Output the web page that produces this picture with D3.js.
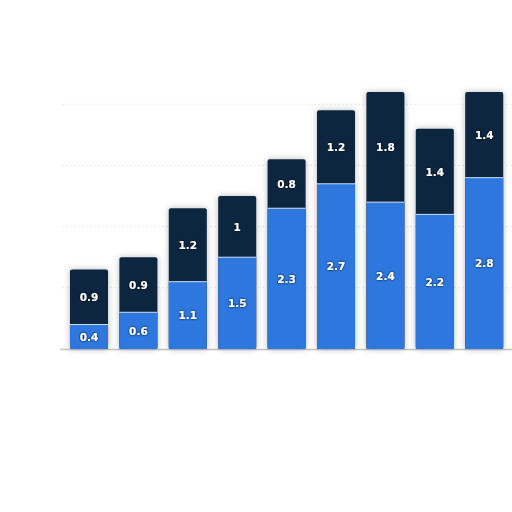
<!DOCTYPE html>
<html>
<head>
<meta charset="utf-8">
<script src="https://cdn.jsdelivr.net/npm/d3@7"></script>
<style>
body { margin: 0; background: #fff; }
svg { display: block; }
.lbl { font-family: "DejaVu Sans", sans-serif; font-weight: bold; font-size: 10.5px; fill: #fff; }
</style>
</head>
<body>
<svg id="chart"></svg>
<script>
// values
var categories = ["1", "2", "3", "4", "5", "6", "7", "8", "9"];
var lower = [0.4, 0.6, 1.1, 1.5, 2.3, 2.7, 2.4, 2.2, 2.8];
var upper = [0.9, 0.9, 1.2, 1, 0.8, 1.2, 1.8, 1.4, 1.4];
var gridTicks = [1, 2, 3, 4];

var screen = {width: 512, height: 512};
var base = 349;

var svg = d3.select("#chart")
    .attr("width", screen.width)
    .attr("height", screen.height);

var defs = svg.append("defs");
var f = defs.append("filter").attr("id", "shadow")
    .attr("x", "-30%").attr("y", "-10%").attr("width", "160%").attr("height", "120%");
f.append("feDropShadow").attr("dx", 0).attr("dy", 0)
    .attr("stdDeviation", 3).attr("flood-color", "#000").attr("flood-opacity", 0.28);
var tf = defs.append("filter").attr("id", "txt");
tf.append("feDropShadow").attr("dx", 0).attr("dy", 0)
    .attr("stdDeviation", 0.9).attr("flood-color", "#000").attr("flood-opacity", 1);

var xScale = d3.scaleBand()
    .domain(categories)
    .range([64.3, 508.9])
    .paddingInner(0.23)
    .paddingOuter(0.115);

var yScale = d3.scaleLinear()
    .domain([0, 4.2])
    .range([base, 92]);

// faint dotted grid
svg.selectAll(".grid")
    .data(gridTicks)
    .enter()
    .append("line")
    .attr("x1", 62).attr("x2", 512)
    .attr("y1", function(d) { return yScale(d); })
    .attr("y2", function(d) { return yScale(d); })
    .attr("stroke", "#e9e9e9")
    .attr("stroke-width", 1)
    .attr("stroke-dasharray", "2,2");

// baseline
svg.append("line")
    .attr("x1", 60).attr("x2", 512)
    .attr("y1", base + 0.5).attr("y2", base + 0.5)
    .attr("stroke", "#c4c4c4")
    .attr("stroke-width", 1.5);

var bars = svg.selectAll(".bar")
    .data(categories)
    .enter()
    .append("g")
    .attr("class", "bar");

bars.append("rect")
    .attr("filter", "url(#shadow)")
    .attr("x", function(d) { return xScale(d); })
    .attr("width", xScale.bandwidth())
    .attr("y", function(d, i) { return yScale(lower[i] + upper[i]); })
    .attr("height", function(d, i) { return base - yScale(lower[i] + upper[i]); })
    .attr("rx", 2)
    .attr("fill", "#0f2641");

bars.append("rect")
    .attr("x", function(d) { return xScale(d); })
    .attr("width", xScale.bandwidth())
    .attr("y", function(d, i) { return yScale(lower[i]); })
    .attr("height", function(d, i) { return base - yScale(lower[i]); })
    .attr("fill", "#2d77de");

// thin light line between segments
bars.append("line")
    .attr("x1", function(d) { return xScale(d); })
    .attr("x2", function(d) { return xScale(d) + xScale.bandwidth(); })
    .attr("y1", function(d, i) { return yScale(lower[i]); })
    .attr("y2", function(d, i) { return yScale(lower[i]); })
    .attr("stroke", "#cfe0f5")
    .attr("stroke-width", 1);

bars.append("text")
    .attr("class", "lbl")
    .attr("filter", "url(#txt)")
    .attr("text-anchor", "middle")
    .attr("x", function(d) { return xScale(d) + xScale.bandwidth() / 2; })
    .attr("y", function(d, i) { return yScale(lower[i] / 2) + 4; })
    .text(function(d, i) { return lower[i]; });

bars.append("text")
    .attr("class", "lbl")
    .attr("filter", "url(#txt)")
    .attr("text-anchor", "middle")
    .attr("x", function(d) { return xScale(d) + xScale.bandwidth() / 2; })
    .attr("y", function(d, i) { return yScale(lower[i] + upper[i] / 2) + 4; })
    .text(function(d, i) { return upper[i]; });
</script>
</body>
</html>
